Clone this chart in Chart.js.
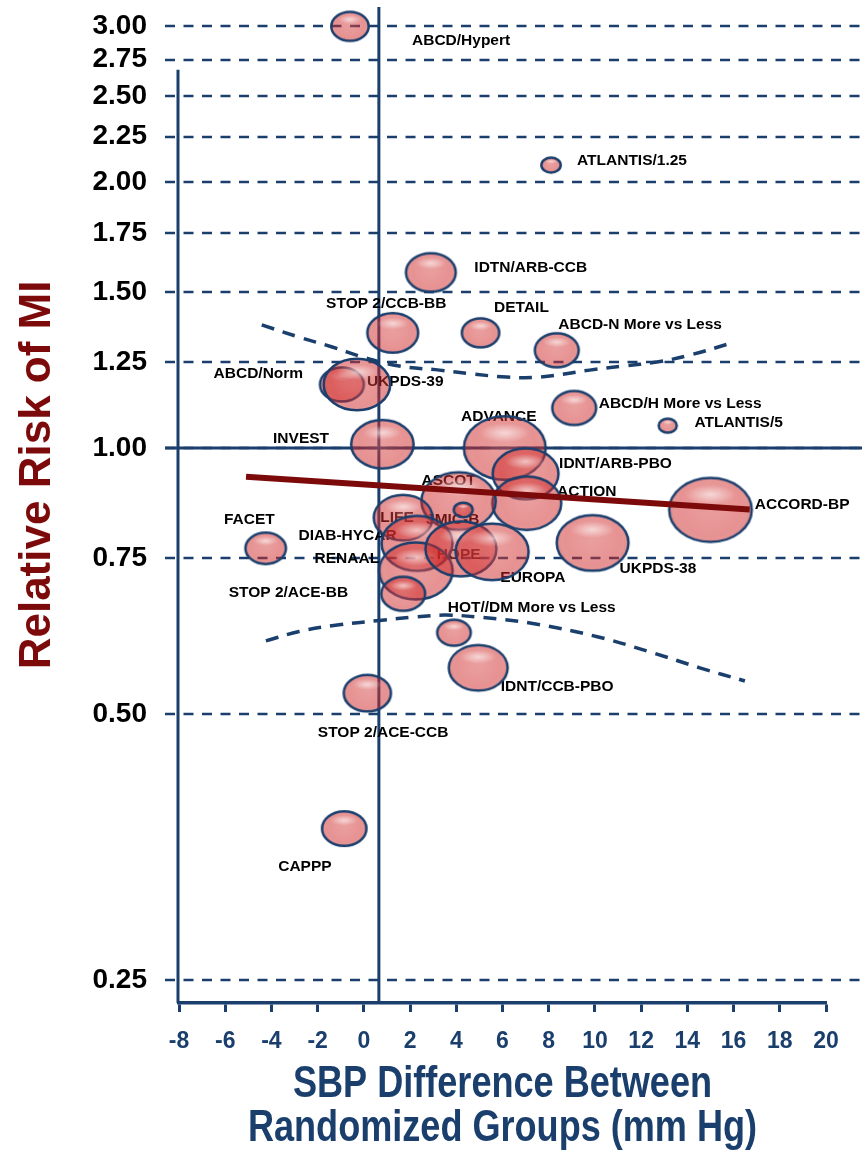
<!DOCTYPE html>
<html>
<head>
<meta charset="utf-8">
<script src="https://cdn.jsdelivr.net/npm/chart.js@4.4.1/dist/chart.umd.min.js"></script>
<style>
  html, body { margin: 0; padding: 0; background: #fff; }
  #wrap { width: 868px; height: 1151px; position: relative; }
</style>
</head>
<body>
<div id="wrap"><canvas id="c"></canvas></div>
<script>
// Trials: SBP difference (mm Hg), relative risk of MI, bubble size (trial weight)
const trials = [
  'ABCD/Hypert', 'ATLANTIS/1.25', 'IDTN/ARB-CCB', 'STOP 2/CCB-BB', 'DETAIL',
  'ABCD-N More vs Less', 'ABCD/Norm', 'UKPDS-39', 'INVEST', 'ADVANCE',
  'ABCD/H More vs Less', 'ATLANTIS/5', 'IDNT/ARB-PBO', 'ACTION', 'ACCORD-BP',
  'UKPDS-38', 'ASCOT', 'JMIC-B', 'LIFE', 'DIAB-HYCAR',
  'RENAAL', 'STOP 2/ACE-BB', 'HOPE', 'EUROPA', 'FACET',
  'HOT//DM More vs Less', 'IDNT/CCB-PBO', 'STOP 2/ACE-CCB', 'CAPPP'
];
const sbpDiff = [
  -0.6, 8.1, 2.9, 1.25, 5.05,
  8.35, -0.95, -0.3, 0.8, 6.1,
  9.1, 13.15, 7.0, 7.05, 15.0,
  9.9, 4.1, 4.3, 1.7, 2.3,
  2.25, 1.7, 4.2, 5.55, -4.25,
  3.9, 4.95, 0.15, -0.85
];
const relRisk = [
  3.00, 2.09, 1.58, 1.35, 1.35,
  1.29, 1.18, 1.18, 1.01, 1.00,
  1.11, 1.06, 0.935, 0.866, 0.851,
  0.781, 0.871, 0.851, 0.834, 0.780,
  0.726, 0.684, 0.769, 0.763, 0.770,
  0.618, 0.564, 0.528, 0.371
];
const trialSize = [
  14.5, 7.5, 19.3, 19.7, 14.5,
  17, 17, 25.8, 24.2, 31.7,
  17, 7, 25.5, 26.7, 32,
  27.8, 28.8, 7.3, 22.8, 27.5,
  28.5, 17, 27.5, 28.3, 15.7,
  13, 22.8, 18.3, 17.2
];

// Axis ticks
const rrTicks = [0.25, 0.50, 0.75, 1.00, 1.25, 1.50, 1.75, 2.00, 2.25, 2.50, 2.75, 3.00];
const sbpTicks = [-8, -6, -4, -2, 0, 2, 4, 6, 8, 10, 12, 14, 16, 18, 20];

// Meta-regression line and its confidence band
const fitSbp = [-5.1, 16.7];
const fitRR = [0.928, 0.852];
const upperSbp = [-4.42, -2.80, -1.37, 0.10, 1.53, 3.27, 4.70, 6.17, 7.60, 9.77, 11.21, 12.68, 14.11, 15.93];
const upperRR = [1.378, 1.335, 1.301, 1.264, 1.238, 1.225, 1.213, 1.203, 1.203, 1.225, 1.238, 1.251, 1.274, 1.315];
const lowerSbp = [-4.24, -2.80, -1.07, 0.67, 2.26, 3.56, 5.15, 7.31, 10.06, 12.37, 14.54, 16.49];
const lowerRR = [0.605, 0.620, 0.631, 0.638, 0.644, 0.647, 0.643, 0.633, 0.612, 0.588, 0.564, 0.545];

// Reference lines: no risk difference, and no pressure difference
const nullRR = 1.00;
const nullSbp = 0.65;

// Axis titles
const xTitleLines = ['SBP Difference Between', 'Randomized Groups (mm Hg)'];
const yTitle = 'Relative Risk of MI';

// Label placement around each bubble: [dx, dy, align]
const labelPlacement = [
  [62, 14, 'left'], [26, -4, 'left'], [43.5, -5, 'left'], [-6.5, -29.6, 'center'], [13.5, -25.5, 'left'],
  [1.5, -26, 'left'], [-38.8, -10.8, 'right'], [10, -2.5, 'left'], [-53.3, -5.8, 'right'], [-6, -31, 'center'],
  [24.6, -4.7, 'left'], [26.7, -3, 'left'], [33.5, -10.5, 'left'], [30.3, -11.6, 'left'], [44.3, -5.7, 'left'],
  [27, 25.5, 'left'], [-10, -20.5, 'center'], [-10.5, 10, 'center'], [-6, 0, 'center'], [-20.3, -7.5, 'right'],
  [-36.7, -11.8, 'right'], [-55, -1, 'right'], [-2.3, 6, 'center'], [8.2, 26, 'left'], [-16.3, -28.3, 'center'],
  [-6.2, -24.7, 'left'], [22.5, 19, 'left'], [15.8, 40, 'center'], [-39.3, 38.5, 'center']
];

const NAVY = '#1b3f6d';
const MAROON = '#7d0a0a';
const SANS = '"Liberation Sans", Arial, Helvetica, sans-serif';
const ELLIPSE_ASPECT = 1.29;
const CONDENSE = 0.82;

// Glossy translucent ellipse used as the bubble marker
const spriteCache = {};
function bubbleSprite(ry) {
  const key = ry.toFixed(2);
  if (spriteCache[key]) return spriteCache[key];
  const rx = ry * ELLIPSE_ASPECT, lw = 2.5, pad = 2;
  const c = document.createElement('canvas');
  c.width = Math.round(2 * (rx + lw + pad));
  c.height = Math.round(2 * (ry + lw + pad));
  const g = c.getContext('2d');
  const cx = c.width / 2, cy = c.height / 2;
  g.beginPath();
  g.ellipse(cx, cy, rx, ry, 0, 0, Math.PI * 2);
  g.fillStyle = 'rgba(208,38,38,0.5)';
  g.fill();
  g.save();
  g.clip();
  const rg = g.createRadialGradient(cx, cy - ry * 0.15, 0, cx, cy - ry * 0.15, rx * 1.1);
  rg.addColorStop(0, 'rgba(255,255,255,0.12)');
  rg.addColorStop(0.7, 'rgba(255,255,255,0)');
  rg.addColorStop(1, 'rgba(120,0,0,0.14)');
  g.fillStyle = rg;
  g.fillRect(0, 0, c.width, c.height);
  g.translate(cx, cy - ry * 0.48);
  g.scale(rx * 0.62, ry * 0.3);
  const hg = g.createRadialGradient(0, 0, 0, 0, 0, 1);
  hg.addColorStop(0, 'rgba(255,255,255,0.6)');
  hg.addColorStop(1, 'rgba(255,255,255,0)');
  g.fillStyle = hg;
  g.beginPath();
  g.arc(0, 0, 1, 0, Math.PI * 2);
  g.fill();
  g.restore();
  g.beginPath();
  g.ellipse(cx, cy, rx, ry, 0, 0, Math.PI * 2);
  g.lineWidth = lw;
  g.strokeStyle = NAVY;
  g.stroke();
  spriteCache[key] = c;
  return c;
}

// Grid, reference lines and trial names, drawn beneath the bubbles
const backdrop = {
  id: 'backdrop',
  beforeDatasetsDraw(chart) {
    const { ctx, chartArea: a, scales: { x, y } } = chart;
    const gridLeft = a.left - 14, gridRight = chart.width - 6;
    ctx.save();
    ctx.strokeStyle = NAVY;
    ctx.lineWidth = 2.5;
    ctx.setLineDash([10, 8.5]);
    rrTicks.forEach(v => {
      const py = Math.round(y.getPixelForValue(v));
      ctx.beginPath();
      ctx.moveTo(gridLeft, py);
      ctx.lineTo(gridRight, py);
      ctx.stroke();
    });
    ctx.setLineDash([]);
    ctx.lineWidth = 3;
    // left axis line
    ctx.beginPath();
    ctx.moveTo(a.left - 1, y.getPixelForValue(2.68));
    ctx.lineTo(a.left - 1, a.bottom);
    ctx.stroke();
    // RR = 1 line
    const py1 = Math.round(y.getPixelForValue(nullRR));
    ctx.beginPath();
    ctx.moveTo(gridLeft, py1);
    ctx.lineTo(gridRight, py1);
    ctx.stroke();
    // SBP difference reference line
    const px0 = x.getPixelForValue(nullSbp);
    ctx.beginPath();
    ctx.moveTo(px0, a.top - 1);
    ctx.lineTo(px0, a.bottom);
    ctx.stroke();
    // trial names
    ctx.font = 'bold 15.5px ' + SANS;
    ctx.fillStyle = '#000';
    ctx.textBaseline = 'middle';
    const meta = chart.getDatasetMeta(0);
    meta.data.forEach((pt, i) => {
      const [dx, dy, al] = labelPlacement[i];
      ctx.textAlign = al;
      ctx.fillText(trials[i], pt.x + dx, pt.y + dy);
    });
    ctx.restore();
  },
  // condensed two-line title under the SBP axis
  afterDraw(chart) {
    const { ctx, scales: { x } } = chart;
    ctx.save();
    ctx.font = 'bold 44px ' + SANS;
    ctx.fillStyle = NAVY;
    ctx.textAlign = 'center';
    ctx.textBaseline = 'middle';
    const cx = (x.left + x.right) / 2;
    xTitleLines.forEach((line, i) => {
      const w = ctx.measureText(line).width * CONDENSE;
      ctx.fillText(line, cx, x.top + 82 + i * 44, w);
    });
    ctx.restore();
  }
};

const pts = (xs, ys) => xs.map((v, i) => ({ x: v, y: ys[i] }));

new Chart(document.getElementById('c'), {
  type: 'bubble',
  data: {
    datasets: [
      {
        label: 'Trials',
        data: sbpDiff.map((v, i) => ({ x: v, y: relRisk[i], r: trialSize[i] })),
        pointStyle: ctx => (ctx.raw ? bubbleSprite(ctx.raw.r) : 'circle'),
        backgroundColor: 'rgba(208,38,38,0.5)',
        borderColor: NAVY,
        clip: false,
        order: 3
      },
      {
        type: 'line',
        label: 'Upper 95% CI',
        data: pts(upperSbp, upperRR),
        borderColor: NAVY,
        borderWidth: 3.5,
        borderDash: [13, 9],
        pointRadius: 0,
        tension: 0.4,
        fill: false,
        clip: false,
        order: 2
      },
      {
        type: 'line',
        label: 'Lower 95% CI',
        data: pts(lowerSbp, lowerRR),
        borderColor: NAVY,
        borderWidth: 3.5,
        borderDash: [13, 9],
        pointRadius: 0,
        tension: 0.4,
        fill: false,
        clip: false,
        order: 2
      },
      {
        type: 'line',
        label: 'Regression',
        data: pts(fitSbp, fitRR),
        borderColor: MAROON,
        borderWidth: 6,
        pointRadius: 0,
        fill: false,
        clip: false,
        order: 1
      }
    ]
  },
  options: {
    responsive: true,
    maintainAspectRatio: false,
    animation: false,
    events: [],
    layout: { autoPadding: false, padding: { top: 8, right: 42, left: 0, bottom: 0 } },
    plugins: { legend: { display: false }, tooltip: { enabled: false } },
    scales: {
      x: {
        type: 'linear',
        min: -8,
        max: 20,
        afterBuildTicks: s => { s.ticks = sbpTicks.map(v => ({ value: v })); },
        afterFit: s => { s.height = 148; s.paddingLeft = 0; s.paddingRight = 0; },
        ticks: {
          autoSkip: false,
          maxRotation: 0,
          padding: 16,
          color: NAVY,
          font: { family: SANS, size: 23, weight: 'bold' }
        },
        grid: {
          display: true,
          drawOnChartArea: false,
          drawTicks: true,
          tickLength: 9,
          tickWidth: 3,
          tickColor: NAVY
        },
        border: { display: true, color: NAVY, width: 3.5 },
        title: { display: false }
      },
      y: {
        type: 'logarithmic',
        min: 0.2355,
        max: 3.147,
        afterBuildTicks: s => { s.ticks = rrTicks.map(v => ({ value: v })); },
        afterFit: s => { s.width = 179; s.paddingTop = 0; s.paddingBottom = 0; },
        ticks: {
          autoSkip: false,
          padding: 32,
          color: '#000',
          font: { family: SANS, size: 28, weight: 'bold' },
          callback: v => Number(v).toFixed(2)
        },
        grid: { display: false, drawTicks: false },
        border: { display: false },
        title: {
          display: true,
          text: '     ' + yTitle,
          color: MAROON,
          font: { family: SANS, size: 44, weight: 'bold' },
          padding: { top: 11, bottom: 0 }
        }
      }
    }
  },
  plugins: [backdrop]
});
</script>
</body>
</html>
